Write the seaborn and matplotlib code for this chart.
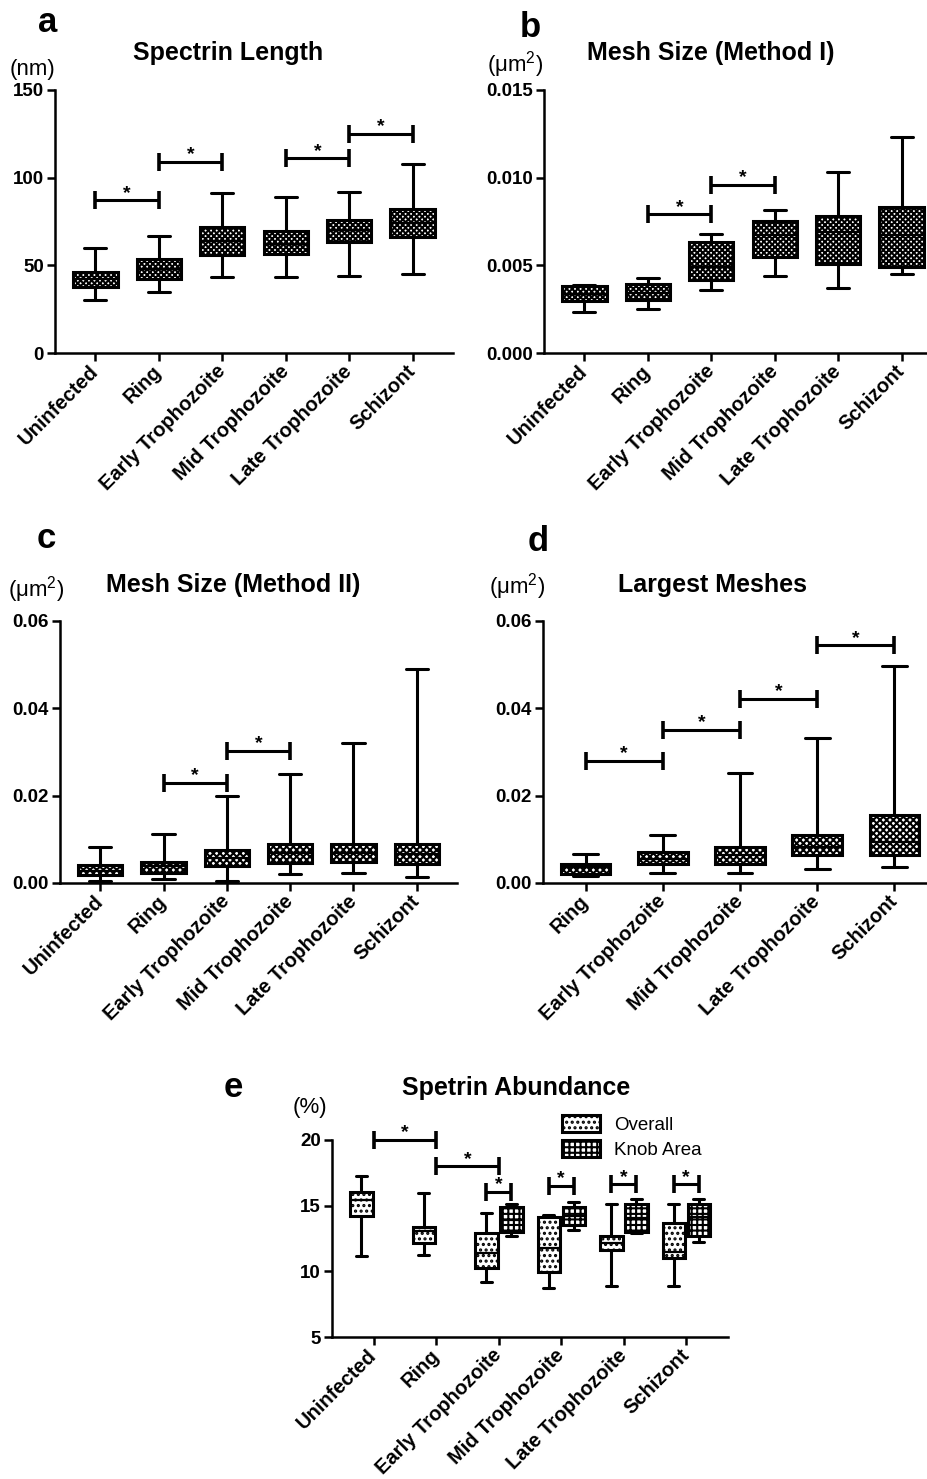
import numpy as np
import pandas as pd
import matplotlib
matplotlib.use("Agg")
import matplotlib.pyplot as plt
from matplotlib.patches import Patch
import seaborn as sns

W, H = 928, 1479

stages = ["Uninfected", "Ring", "Early Trophozoite", "Mid Trophozoite",
          "Late Trophozoite", "Schizont"]

# five-number summaries: min, Q1, median, Q3, max
spectrin_length = [
    [30.0, 37.6, 42.0, 46.0, 60.0],
    [35.0, 42.3, 48.0, 53.4, 67.0],
    [43.3, 56.0, 64.0, 71.6, 91.0],
    [43.3, 56.2, 62.0, 69.5, 89.0],
    [44.0, 63.2, 70.0, 75.6, 92.0],
    [44.8, 66.3, 74.0, 82.2, 108.0],
]
mesh_method1 = [
    [0.00232, 0.00295, 0.00335, 0.00381, 0.00387],
    [0.00253, 0.00301, 0.00345, 0.00396, 0.00430],
    [0.00362, 0.00419, 0.00491, 0.00634, 0.00676],
    [0.00438, 0.00549, 0.00672, 0.00754, 0.00813],
    [0.00373, 0.00505, 0.00688, 0.00781, 0.01030],
    [0.00450, 0.00491, 0.00672, 0.00830, 0.01230],
]
mesh_method2 = [
    [0.00046, 0.00176, 0.0028, 0.00405, 0.00824],
    [0.00084, 0.00237, 0.0040, 0.00481, 0.01115],
    [0.00046, 0.00382, 0.0057, 0.00763, 0.01985],
    [0.0020, 0.00458, 0.0069, 0.0090, 0.0249],
    [0.0023, 0.0048, 0.0069, 0.00885, 0.0321],
    [0.00137, 0.00427, 0.0067, 0.0090, 0.0489],
]
largest_stages = stages[1:]
largest_meshes = [
    [0.0016, 0.00214, 0.0037, 0.00443, 0.00672],
    [0.00237, 0.00443, 0.0056, 0.0071, 0.0109],
    [0.00237, 0.00443, 0.0063, 0.00824, 0.0253],
    [0.0033, 0.0063, 0.0082, 0.0111, 0.0331],
    [0.0037, 0.0063, 0.0094, 0.0156, 0.0498],
]
abundance_overall = [
    [11.13, 14.25, 15.44, 16.07, 17.29],
    [11.26, 12.14, 13.08, 13.41, 15.95],
    [9.18, 10.24, 11.43, 12.90, 14.42],
    [8.72, 9.92, 11.76, 14.17, 14.30],
    [8.90, 11.59, 12.14, 12.70, 15.13],
    [8.90, 11.00, 11.46, 13.66, 15.13],
]
knob_stages = stages[2:]
abundance_knob = [
    [12.70, 12.98, 13.90, 14.93, 15.13],
    [13.16, 13.49, 14.22, 14.88, 15.31],
    [12.90, 12.96, 14.05, 15.13, 15.51],
    [12.27, 12.70, 14.17, 15.13, 15.51],
]

# significance brackets: (from, to, height)
sig_a = [(0, 1, 87), (1, 2, 109), (3, 4, 111), (4, 5, 125)]
sig_b = [(1, 2, 0.0079), (2, 3, 0.0096)]
sig_c = [(1, 2, 0.0230), (2, 3, 0.0302)]
sig_d = [(0, 1, 0.0279), (1, 2, 0.0350), (2, 3, 0.0422), (3, 4, 0.0544)]
sig_e = [(0, 1, 20.0), (1, 2, 18.0), (1.8, 2.2, 16.07), (2.8, 3.2, 16.5),
         (3.8, 4.2, 16.63), (4.8, 5.2, 16.63)]

sns.set_style("ticks")
plt.rcParams['font.family'] = ['Liberation Sans', 'DejaVu Sans']
plt.rcParams['mathtext.fontset'] = 'custom'
plt.rcParams['mathtext.rm'] = 'Liberation Sans'
plt.rcParams['mathtext.default'] = 'rm'
for key in ('text.color', 'axes.labelcolor', 'xtick.color', 'ytick.color', 'axes.edgecolor'):
    plt.rcParams[key] = 'black'
plt.rcParams['hatch.color'] = 'black'
plt.rcParams['hatch.linewidth'] = 1.5


def long_df(groups, summaries, label="all"):
    rows = []
    for g, s in zip(groups, summaries):
        for v in s:
            rows.append({"stage": g, "value": v, "group": label})
    return pd.DataFrame(rows)


def add_ax(fig, left, top, right, bottom):
    return fig.add_axes([left / W, 1 - bottom / H, (right - left) / W, (bottom - top) / H])


box_kw = dict(whis=(0, 100), linecolor="black", linewidth=2.2, fliersize=0,
              medianprops=dict(color="black", linewidth=1.6))


def style_axes(ax, yticks, fmt):
    ax.set_ylim(yticks[0], yticks[-1])
    ax.set_yticks(yticks)
    ax.set_yticklabels([fmt.format(t) for t in yticks])
    ax.set_xlabel("")
    ax.set_ylabel("")
    sns.despine(ax=ax)
    for sp in ("left", "bottom"):
        ax.spines[sp].set_linewidth(1.8)
    ax.tick_params(direction="out", length=6, width=1.8, labelsize=13.5, pad=2,
                   colors="black")
    ax.tick_params(axis="x", pad=5)
    for lab in ax.get_yticklabels():
        lab.set_fontweight("bold")
    for lab in ax.get_xticklabels():
        lab.set_fontweight("bold")
        lab.set_fontsize(14.5)
        lab.set_rotation(45)
        lab.set_ha("right")
        lab.set_va("center")
        lab.set_rotation_mode("anchor")


def brackets(ax, sigs, star_size=14):
    for x1, x2, y in sigs:
        ax.plot([x1, x2], [y, y], color="black", lw=2.2, marker="|", markersize=13,
                mew=2.6, clip_on=False, solid_capstyle="butt")
        ax.annotate("*", ((x1 + x2) / 2, y), xytext=(0, -1), textcoords="offset points",
                    ha="center", va="bottom", fontsize=star_size, fontweight="bold",
                    annotation_clip=False)


def single_panel(fig, rect, groups, summaries, yticks, fmt, sigs, width, hatch):
    ax = add_ax(fig, *rect)
    df = long_df(groups, summaries)
    sns.boxplot(data=df, x="stage", y="value", order=groups, color="white",
                width=width, ax=ax, **box_kw)
    for p in ax.patches:
        p.set_hatch(hatch)
    style_axes(ax, yticks, fmt)
    brackets(ax, sigs)
    return ax


fig = plt.figure(figsize=(W / 100, H / 100), dpi=100)

single_panel(fig, (55, 90, 453, 353), stages, spectrin_length,
             [0, 50, 100, 150], "{:g}", sig_a, 0.7, "xxxxxx")
single_panel(fig, (544, 90, 942, 353), stages, mesh_method1,
             [0.0, 0.005, 0.010, 0.015], "{:.3f}", sig_b, 0.7, "xxxxxx")
single_panel(fig, (60, 621, 457, 883), stages, mesh_method2,
             [0.0, 0.02, 0.04, 0.06], "{:.2f}", sig_c, 0.7, "xxxxx")
single_panel(fig, (543, 621, 937, 883), largest_stages, largest_meshes,
             [0.0, 0.02, 0.04, 0.06], "{:.2f}", sig_d, 0.64, "xxxxx")

# panel e: grouped boxes
ax = add_ax(fig, 332, 1140, 728, 1337)
df_e = pd.concat([long_df(stages, abundance_overall, "Overall"),
                  long_df(knob_stages, abundance_knob, "Knob Area")])
sns.boxplot(data=df_e, x="stage", y="value", hue="group", order=stages,
            hue_order=["Overall", "Knob Area"],
            palette={"Overall": "white", "Knob Area": "white"},
            dodge=True, width=0.8, gap=0.1, legend=False, ax=ax, **box_kw)
for p in ax.patches:
    ext = p.get_path().get_extents()
    cx = (ext.x0 + ext.x1) / 2
    p.set_hatch("..." if cx - round(cx) < 0 else "+++")
style_axes(ax, [5, 10, 15, 20], "{:g}")
brackets(ax, sig_e)
handles = [Patch(facecolor="white", edgecolor="black", hatch="...", lw=2.2),
           Patch(facecolor="white", edgecolor="black", hatch="+++", lw=2.2)]
ax.legend(handles, ["Overall", "Knob Area"], loc="upper left",
          bbox_to_anchor=(562 / W, 1 - 1115 / H), bbox_transform=fig.transFigure,
          frameon=False, fontsize=13.5, handlelength=2.0, handleheight=1.0,
          handletextpad=0.8, labelspacing=0.35, borderpad=0, borderaxespad=0)

# panel letters, titles, units
def ftext(x, y, s, **kw):
    fig.text(x / W, 1 - y / H, s, **kw)

for letter, x, y in [("a", 38, 32), ("b", 520, 37), ("c", 37, 548), ("d", 528, 551), ("e", 224, 1097)]:
    ftext(x, y, letter, fontsize=25, fontweight="bold", ha="left", va="baseline")

for title, x, y in [("Spectrin Length", 228, 60), ("Mesh Size (Method I)", 711, 60),
                    ("Mesh Size (Method II)", 233, 592), ("Largest Meshes", 713, 592),
                    ("Spetrin Abundance", 516, 1095)]:
    ftext(x, y, title, fontsize=18, fontweight="bold", ha="center", va="baseline")

for unit, x, y in [("(nm)", 10, 70), ("(μm$^2$)", 487, 65), ("(μm$^2$)", 8, 590),
                   ("(μm$^2$)", 489, 587), ("(%)", 293, 1108)]:
    ftext(x, y, unit, fontsize=16, ha="left", va="center")

fig.savefig("out.png", dpi=100)
